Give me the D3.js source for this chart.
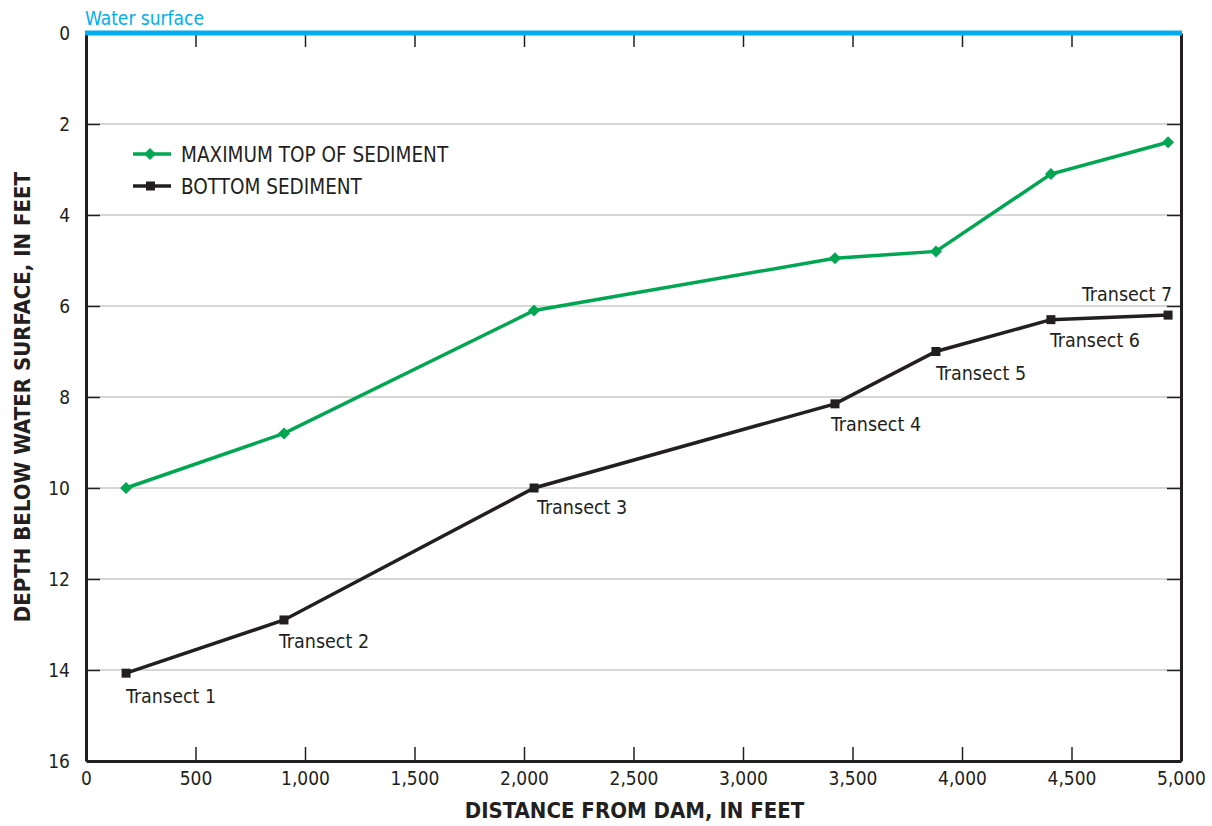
<!DOCTYPE html>
<html>
<head>
<meta charset="utf-8">
<script src="https://cdn.jsdelivr.net/npm/d3@7"></script>
<style>
  body { margin: 0; background: #fff; }
  svg text { font-family: "Liberation Sans Narrow", "DejaVu Sans Condensed", "Roboto", sans-serif; fill: #231f20; }
</style>
</head>
<body>
<svg id="chart" width="1212" height="826"></svg>
<script>
// data
var distance = [183, 904, 2046, 3420, 3881, 4406, 4941];
var topSediment = [10.0, 8.8, 6.1, 4.95, 4.8, 3.1, 2.4];
var bottomSediment = [14.07, 12.9, 10.0, 8.15, 7.0, 6.3, 6.2];
var transectLabels = ['Transect 1', 'Transect 2', 'Transect 3', 'Transect 4', 'Transect 5', 'Transect 6', 'Transect 7'];
var xTicks = [0, 500, 1000, 1500, 2000, 2500, 3000, 3500, 4000, 4500, 5000];
var yTicks = [0, 2, 4, 6, 8, 10, 12, 14, 16];

var svg = d3.select('#chart');
var margin = { top: 33, left: 86, right: 30, bottom: 65 };
var innerWidth = 1181 - margin.left;
var innerHeight = 761 - margin.top;

var ink = '#231f20';
var green = '#00a651';
var blue = '#00aeef';

var xScale = d3.scaleLinear().domain([0, 5000]).range([0, innerWidth]);
var yScale = d3.scaleLinear().domain([0, 16]).range([0, innerHeight]);

var g = svg.append('g')
    .attr('transform', `translate(${margin.left}, ${margin.top})`);

// gridlines
g.selectAll('.grid')
    .data(yTicks.filter(d => d > 0 && d < 16))
    .enter()
    .append('line')
    .attr('x1', 0)
    .attr('x2', innerWidth)
    .attr('y1', d => yScale(d))
    .attr('y2', d => yScale(d))
    .style('stroke', '#c8c8c8')
    .style('stroke-width', 1.5);

// axes, ticks pointing inward
var fmt = d3.format(',');
var xBottom = g.append('g')
    .attr('transform', `translate(0, ${innerHeight})`)
    .call(d3.axisBottom(xScale).tickValues(xTicks).tickFormat(fmt).tickSizeInner(-14).tickSizeOuter(0).tickPadding(17));
var xTop = g.append('g')
    .call(d3.axisTop(xScale).tickValues(xTicks).tickFormat('').tickSizeInner(-14).tickSizeOuter(0));
var yLeft = g.append('g')
    .call(d3.axisLeft(yScale).tickValues(yTicks).tickSizeInner(-14).tickSizeOuter(0));
var yRight = g.append('g')
    .attr('transform', `translate(${innerWidth}, 0)`)
    .call(d3.axisRight(yScale).tickValues(yTicks).tickFormat('').tickSizeInner(-14).tickSizeOuter(0));

xTop.selectAll('.tick text').remove();
yRight.selectAll('.tick text').remove();

[xBottom, xTop, yLeft, yRight].forEach(a => {
    a.select('.domain').style('stroke', ink).style('stroke-width', 3);
    a.selectAll('.tick line').style('stroke', ink).style('stroke-width', 1.5);
    a.selectAll('.tick text').style('font-size', '19px').style('fill', ink);
});
xBottom.selectAll('.tick text').attr('dy', '0.35em');
yLeft.selectAll('.tick text').attr('x', -16);
xBottom.selectAll('.tick line').filter(d => d === 0 || d === 5000).remove();
xTop.selectAll('.tick line').filter(d => d === 0 || d === 5000).remove();
yLeft.selectAll('.tick line').filter(d => d === 0 || d === 16).remove();
yRight.selectAll('.tick line').filter(d => d === 0 || d === 16).remove();

// water surface
g.append('line')
    .attr('x1', -1)
    .attr('x2', innerWidth + 1)
    .attr('y1', yScale(0))
    .attr('y2', yScale(0))
    .style('stroke', blue)
    .style('stroke-width', 5);
g.append('text')
    .attr('x', -1)
    .attr('y', -8)
    .style('font-size', '19px')
    .style('fill', blue)
    .text('Water surface');

// lines
var line = d3.line()
    .x(d => xScale(d[0]))
    .y(d => yScale(d[1]));

var topData = distance.map((d, i) => [d, topSediment[i]]);
var bottomData = distance.map((d, i) => [d, bottomSediment[i]]);

g.append('path')
    .datum(topData)
    .attr('d', line)
    .style('fill', 'none')
    .style('stroke', green)
    .style('stroke-width', 3.5);

g.append('path')
    .datum(bottomData)
    .attr('d', line)
    .style('fill', 'none')
    .style('stroke', ink)
    .style('stroke-width', 3.5);

var diamond = d3.symbol().type(d3.symbolSquare).size(72);

g.selectAll('.top_marker')
    .data(topData)
    .enter()
    .append('path')
    .attr('d', diamond)
    .attr('transform', d => `translate(${xScale(d[0])}, ${yScale(d[1])}) rotate(45)`)
    .style('fill', green);

g.selectAll('.bottom_marker')
    .data(bottomData)
    .enter()
    .append('rect')
    .attr('x', d => xScale(d[0]) - 4.5)
    .attr('y', d => yScale(d[1]) - 4.5)
    .attr('width', 9)
    .attr('height', 9)
    .style('fill', ink);

// transect labels
var labelOffsets = [[0, 30, 'start'], [-5, 28, 'start'], [3, 26, 'start'], [-4, 27, 'start'], [0, 28, 'start'], [-1, 27, 'start'], [4, -14, 'end']];
g.selectAll('.transect')
    .data(bottomData)
    .enter()
    .append('text')
    .attr('x', (d, i) => xScale(d[0]) + labelOffsets[i][0])
    .attr('y', (d, i) => yScale(d[1]) + labelOffsets[i][1])
    .style('text-anchor', (d, i) => labelOffsets[i][2])
    .style('font-size', '19.5px')
    .text((d, i) => transectLabels[i]);

// legend
var legend = [['MAXIMUM TOP OF SEDIMENT', green, 'diamond'], ['BOTTOM SEDIMENT', ink, 'square']];
legend.forEach((item, i) => {
    var ly = 154 + i * 32 - margin.top;
    var lx = 133 - margin.left;
    g.append('line')
        .attr('x1', lx).attr('x2', lx + 38)
        .attr('y1', ly).attr('y2', ly)
        .style('stroke', item[1])
        .style('stroke-width', 3.5);
    if (item[2] === 'diamond') {
        g.append('path')
            .attr('d', diamond)
            .attr('transform', `translate(${lx + 17}, ${ly}) rotate(45)`)
            .style('fill', item[1]);
    } else {
        g.append('rect')
            .attr('x', lx + 13).attr('y', ly - 4.5)
            .attr('width', 9).attr('height', 9)
            .style('fill', item[1]);
    }
    g.append('text')
        .attr('x', lx + 48)
        .attr('y', ly + 8)
        .style('font-size', '20.5px')
        .text(item[0]);
});

// axis titles
svg.append('text')
    .attr('x', margin.left + innerWidth / 2 + 1)
    .attr('y', 818)
    .style('text-anchor', 'middle')
    .style('font-size', '22px')
    .style('font-weight', 'bold')
    .text('DISTANCE FROM DAM, IN FEET');

svg.append('text')
    .attr('transform', 'translate(30, 397) rotate(-90)')
    .style('text-anchor', 'middle')
    .style('font-size', '22px')
    .style('font-weight', 'bold')
    .text('DEPTH BELOW WATER SURFACE, IN FEET');
</script>
</body>
</html>
